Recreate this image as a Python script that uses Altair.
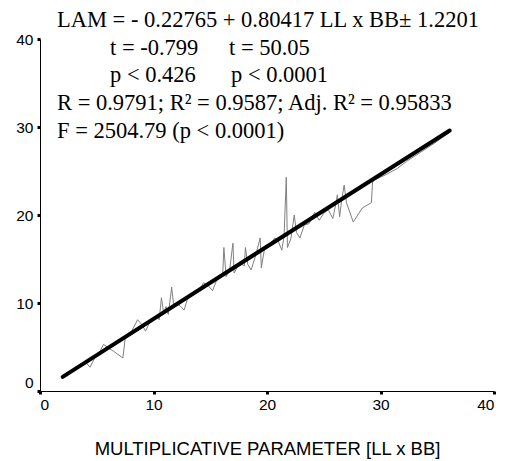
import altair as alt
import pandas as pd

# Observed series (gray line): LL x BB vs LAM
obs_x = [2.0, 2.4, 2.8, 3.2, 3.6, 4.0, 4.4, 4.8, 5.2, 5.6, 6.0, 6.5, 7.3, 7.5, 8.0,
         8.6, 9.0, 9.3, 9.7, 10.0, 10.3, 10.5, 10.7, 10.9, 11.1, 11.3, 11.6, 11.8,
         12.1, 12.4, 12.7, 13.0, 13.4, 13.8, 14.1, 14.4, 14.8, 15.2, 15.6, 15.9,
         16.1, 16.2, 16.4, 16.7, 17.0, 17.1, 17.4, 17.7, 18.0, 18.1, 18.3, 18.6,
         19.0, 19.4, 19.5, 19.8, 20.2, 20.7, 21.0, 21.3, 21.5, 21.7, 21.8, 22.1,
         22.4, 22.6, 22.9, 23.3, 23.7, 24.2, 24.6, 25.0, 25.4, 25.8, 26.1, 26.2,
         26.4, 26.6, 26.8, 27.0, 27.6, 28.4, 29.2, 29.3, 29.5, 30.5, 31.5, 32.3,
         33.5, 34.8, 36.1]
obs_y = [1.6, 2.0, 2.3, 2.7, 3.0, 3.3, 2.7, 3.7, 4.3, 5.3, 4.9, 4.5, 3.75, 5.9, 6.6,
         8.1, 7.5, 6.8, 7.9, 8.2, 8.5, 8.1, 10.6, 8.8, 9.6, 8.7, 11.8, 9.5,
         9.9, 9.6, 9.2, 10.5, 11.1, 11.4, 11.6, 12.3, 12.0, 11.4, 12.7, 13.0,
         13.3, 16.3, 13.0, 13.7, 16.8, 13.4, 14.1, 14.5, 14.2, 16.3, 14.4, 13.75,
         15.4, 17.4, 14.0, 16.3, 16.6, 17.4, 17.0, 16.0, 17.5, 24.3, 16.3, 17.3,
         20.0, 18.0, 17.4, 18.9, 19.0, 20.3, 19.4, 20.2, 20.6, 19.6, 21.5, 22.3,
         19.8, 21.9, 23.4, 21.4, 19.2, 20.8, 21.4, 23.75, 24.0, 24.6, 25.3, 26.1,
         27.1, 28.2, 29.4]

# Fitted line (black)
fit_x = [2.0, 19.0, 36.1]
fit_y = [1.6, 15.6, 29.6]

# Annotation texts
eq_line = "LAM = - 0.22765 + 0.80417 LL x BB\u00b1 1.2201"
t_texts = ["t = -0.799", "t = 50.05"]
p_texts = ["p < 0.426", "p < 0.0001"]
r_line = "R = 0.9791; R\u00b2 = 0.9587; Adj. R\u00b2 = 0.95833"
f_line = "F = 2504.79 (p < 0.0001)"

ticks = [0, 10, 20, 30, 40]

obs = pd.DataFrame({"x": obs_x, "y": obs_y})
fit = pd.DataFrame({"x": fit_x, "y": fit_y})

xscale = alt.Scale(domain=[0, 40], nice=False)
yscale = alt.Scale(domain=[0, 40], nice=False)

xaxis = alt.Axis(values=ticks, title="MULTIPLICATIVE PARAMETER  [LL x BB]", grid=False,
                 labelPadding=3, titlePadding=27)
yaxis = alt.Axis(values=ticks, title=None, grid=False,
                 labelPadding=4, labelOffset={"expr": "datum.value == 0 ? -9 : 0"})

gray = alt.Chart(obs).mark_line(color="#808080", strokeWidth=1).encode(
    x=alt.X("x:Q", scale=xscale, axis=xaxis),
    y=alt.Y("y:Q", scale=yscale, axis=yaxis),
    order="x:Q",
)
black = alt.Chart(fit).mark_line(color="black", strokeWidth=4, strokeCap="round").encode(
    x=alt.X("x:Q", scale=xscale, axis=xaxis),
    y=alt.Y("y:Q", scale=yscale, axis=yaxis),
)

def label(txt, px, py):
    return alt.Chart(pd.DataFrame({"t": [txt]})).mark_text(
        font="Liberation Serif", fontSize=22.5, align="left", baseline="alphabetic",
        color="black"
    ).encode(text="t:N", x=alt.value(px), y=alt.value(py))

texts = [
    label(eq_line, 17, -12),
    label(t_texts[0], 70, 16),
    label(t_texts[1], 189, 16),
    label(p_texts[0], 70, 43),
    label(p_texts[1], 191, 43),
    label(r_line, 17, 71),
    label(f_line, 17, 99),
]

chart = alt.layer(gray, black, *texts).properties(
    width=454, height=352,
    autosize=alt.AutoSizeParams(type="none"),
    padding={"left": 40, "top": 39, "right": 15, "bottom": 70},
).configure_view(stroke=None).configure_axis(
    tickSize=3, tickWidth=3, tickColor="black", domainColor="black",
    labelFont="Liberation Sans", labelFontSize=15.5, labelColor="black",
    titleFont="Liberation Sans", titleFontSize=18.5, titleFontWeight="normal",
    titleColor="black",
)

chart.save("out.html", embed_options={"renderer": "svg", "actions": False})
